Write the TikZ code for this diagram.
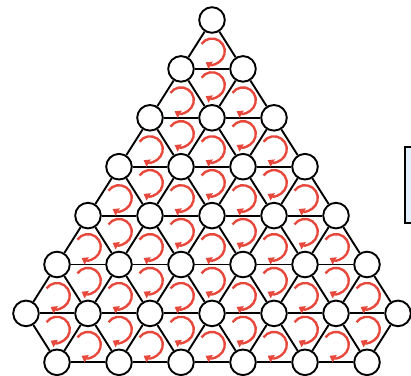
\documentclass[tikz,border=0pt]{standalone}
\usetikzlibrary{arrows.meta}
\definecolor{spinred}{RGB}{232,72,60}
\definecolor{boxblue}{RGB}{226,241,255}

\begin{document}
\begin{tikzpicture}[x=1cm,y=1cm,>=Stealth,
  site/.style={circle,draw,fill=white,line width=1.35pt,minimum size=0.64cm,inner sep=0pt},
  bond/.style={line width=1.35pt},
  spin/.style={spinred,line width=1.7pt,-{Triangle[length=4.2pt,width=5.8pt]}}]
\def\dx{1.55}
\def\dy{1.2225}
\def\rs{0.32}
\clip (-5.3,0.5) rectangle (4.975,-8.875);
\draw[line width=1.35pt,fill=boxblue] (4.83,-3.18) rectangle (5.4,-5.08);
\foreach \r in {0,...,6}
  \foreach \k in {0,...,\r}
    \node[site] (n-\r-\k) at ({(\k-\r/2)*\dx},{-\r*\dy}) {};
\foreach \k in {1,...,6}
  \node[site] (n-7-\k) at ({(\k-3.5)*\dx},{-7*\dy}) {};
\foreach \r in {1,...,6}
  \foreach \k in {1,...,\r}{
    \pgfmathtruncatemacro\j{\k-1}
    \draw[bond] (n-\r-\j) -- (n-\r-\k);
  }
\foreach \k in {2,...,6}{
  \pgfmathtruncatemacro\j{\k-1}
  \draw[bond] (n-7-\j) -- (n-7-\k);
}
\foreach \r in {0,...,5}
  \foreach \k in {0,...,\r}{
    \pgfmathtruncatemacro\s{\r+1}
    \pgfmathtruncatemacro\j{\k+1}
    \draw[bond] (n-\r-\k) -- (n-\s-\k);
    \draw[bond] (n-\r-\k) -- (n-\s-\j);
  }
\foreach \k in {0,...,5}{
  \pgfmathtruncatemacro\j{\k+1}
  \draw[bond] (n-6-\k) -- (n-7-\j);
}
\foreach \k in {1,...,6}
  \draw[bond] (n-6-\k) -- (n-7-\k);
% circulation in every triangle
\foreach \r in {0,...,5}
  \foreach \k in {0,...,\r}
    \draw[spin,shift={({(\k-\r/2)*\dx},{-(\r+0.64)*\dy})}] (145:\rs) arc[start angle=145,end angle=-120,radius=\rs];
\foreach \k in {1,...,5}
  \draw[spin,shift={({(\k-3)*\dx},{-6.64*\dy})}] (145:\rs) arc[start angle=145,end angle=-120,radius=\rs];
\foreach \r in {1,...,6}
  \foreach \k in {1,...,\r}
    \draw[spin,shift={({(\k-0.5-\r/2)*\dx},{-(\r+0.33)*\dy})}] (145:\rs) arc[start angle=145,end angle=-120,radius=\rs];
\end{tikzpicture}
\end{document}
